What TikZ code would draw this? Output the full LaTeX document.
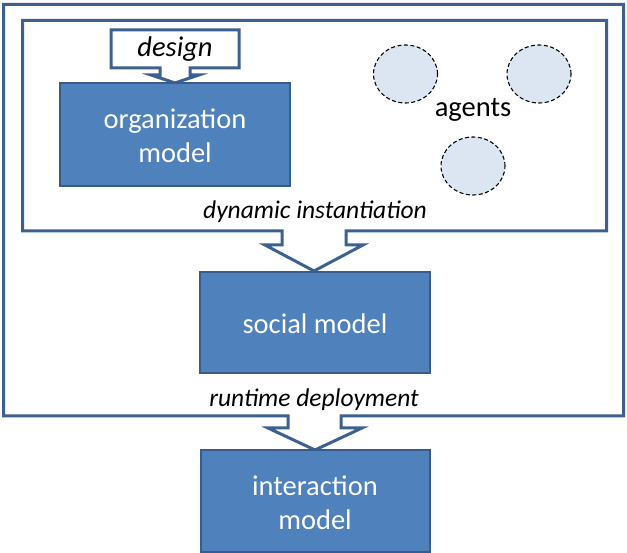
\documentclass[tikz,border=0pt]{standalone}
\usepackage{fontspec}
\setmainfont{Carlito}
\definecolor{boxfill}{HTML}{4F81BD}
\definecolor{boxline}{HTML}{385D8A}
\definecolor{frameline}{HTML}{3C6191}
\definecolor{agentfill}{HTML}{DCE6F2}
\tikzset{
  modelbox/.style={draw=boxline, fill=boxfill, line width=2pt},
  modeltext/.style={text=white, align=center, font=\fontsize{28.5}{34}\selectfont},
  frame/.style={draw=frameline, line width=3pt, line join=miter},
  agent/.style={draw=black, fill=agentfill, dash pattern=on 4pt off 2.5pt, line width=1.1pt, ellipse},
  lab/.style={font=\fontsize{25.5}{30}\selectfont\itshape, text=black, inner sep=0pt}
}
\usetikzlibrary{shapes.geometric}
\begin{document}
\begin{tikzpicture}[x=1pt,y=-1pt]
\useasboundingbox (0,0) rectangle (627,553);
% outer frame with arrow
\draw[frame] (3.5,4.5) -- (623.5,4.5) -- (623.5,416) -- (341,416) -- (341,428) -- (362,428) -- (315,450)
  -- (268,428) -- (288,428) -- (288,416) -- (3.5,416) -- cycle;
% inner frame with arrow
\draw[frame, fill=white] (22.5,20.5) -- (606.5,20.5) -- (606.5,231) -- (346,231) -- (346,245) -- (363,245) -- (314,271)
  -- (265,245) -- (282,245) -- (282,231) -- (22.5,231) -- cycle;
% design callout
\draw[frame, fill=white] (111,30) -- (239,30) -- (239,68) -- (190,68) -- (190,75) -- (199,75) -- (175,83)
  -- (151,75) -- (160,75) -- (160,68) -- (111,68) -- cycle;
\node[font=\fontsize{28.5}{34}\selectfont\itshape, inner sep=0pt] (design) at (175,49) {design};
% model boxes
\draw[modelbox] (60,83) rectangle (290,186);
\node[modeltext] (org) at (175,136) {organization\\model};
\draw[modelbox] (200,272) rectangle (430,373);
\node[modeltext] (social) at (315,324) {social model};
\draw[modelbox] (201,450) rectangle (430,551.5);
\node[modeltext] (inter) at (315,503) {interaction\\model};
% agents
\node[agent, minimum width=64pt, minimum height=58pt] (a1) at (405.5,74) {};
\node[agent, minimum width=64pt, minimum height=58pt] (a2) at (539,74) {};
\node[agent, minimum width=64pt, minimum height=58pt] (a3) at (473,166) {};
\node[font=\fontsize{28.5}{34}\selectfont, inner sep=0pt] (agents) at (473,110) {agents};
% labels
\node[lab] (dyn) at (315,212) {dynamic instantiation};
\node[lab] (run) at (314,400) {runtime deployment};
\end{tikzpicture}
\end{document}
